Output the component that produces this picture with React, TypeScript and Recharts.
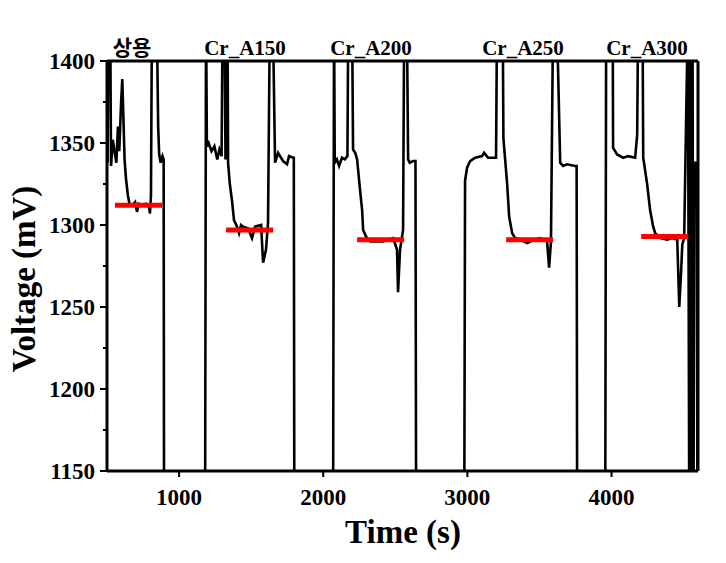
import React from 'react';
import { LineChart, Line, XAxis, YAxis, ReferenceLine, Customized } from 'recharts';

// ---- data (time in s, voltage in mV); values outside 1150..1400 run off the frame ----
const segCommercial: [number, number][] = [
  [500, 1430], [504, 1338], [510, 1430], [522, 1430], [528, 1336], [540, 1352], [552, 1345],
  [565, 1338], [576, 1360], [585, 1345], [598, 1375], [606, 1389], [614, 1365], [622, 1340],
  [632, 1328], [645, 1318], [658, 1312], [675, 1312], [695, 1314], [708, 1308], [720, 1313],
  [745, 1312], [770, 1313], [790, 1312], [798, 1307], [805, 1318], [812, 1430], [845, 1430],
  [855, 1360], [862, 1343], [872, 1338], [885, 1342], [893, 1340], [896, 1100],
];
const segA150: [number, number][] = [
  [1180, 1100], [1187, 1430], [1193, 1348], [1205, 1350], [1225, 1345], [1245, 1348], [1265, 1340],
  [1280, 1346], [1295, 1342], [1302, 1430], [1315, 1430], [1322, 1340], [1328, 1430], [1336, 1430],
  [1340, 1338], [1352, 1325], [1367, 1315], [1381, 1303], [1402, 1299], [1416, 1295], [1430, 1300],
  [1444, 1299], [1479, 1298], [1506, 1292], [1527, 1299], [1569, 1300], [1583, 1277], [1603, 1285],
  [1617, 1301], [1630, 1430], [1650, 1430], [1666, 1338], [1687, 1344], [1721, 1339], [1749, 1337],
  [1763, 1342], [1791, 1341], [1796, 1341], [1800, 1100],
];
const segA200: [number, number][] = [
  [2068, 1100], [2075, 1430], [2080, 1338], [2095, 1340], [2110, 1336], [2130, 1341], [2150, 1340],
  [2168, 1342], [2174, 1430], [2200, 1430], [2207, 1346], [2222, 1344], [2235, 1340], [2256, 1321],
  [2270, 1309], [2277, 1297], [2297, 1293], [2325, 1290], [2374, 1290], [2415, 1290], [2485, 1292],
  [2512, 1285], [2519, 1259], [2533, 1285], [2554, 1297], [2562, 1430], [2580, 1430], [2589, 1340],
  [2600, 1338], [2624, 1339], [2640, 1339], [2645, 1100],
];
const segA250: [number, number][] = [
  [2978, 1100], [2984, 1327], [2998, 1335], [3019, 1339], [3054, 1341], [3102, 1342], [3116, 1344],
  [3144, 1341], [3199, 1341], [3206, 1430], [3245, 1430], [3250, 1353], [3262, 1340], [3276, 1325],
  [3290, 1305], [3311, 1295], [3331, 1292], [3370, 1291], [3415, 1289], [3460, 1291], [3505, 1292],
  [3553, 1290], [3567, 1274], [3580, 1290], [3595, 1430], [3620, 1430], [3644, 1338], [3664, 1336],
  [3692, 1337], [3748, 1336], [3758, 1336], [3762, 1100],
];
const segA300: [number, number][] = [
  [3956, 1100], [3963, 1430], [3968, 1430], [4008, 1430], [4011, 1347], [4039, 1343], [4081, 1341],
  [4115, 1342], [4164, 1341], [4178, 1355], [4185, 1430], [4215, 1430], [4220, 1341], [4247, 1325],
  [4268, 1309], [4289, 1299], [4303, 1295], [4340, 1292], [4386, 1291], [4420, 1292], [4456, 1291],
  [4470, 1250], [4482, 1270], [4491, 1288], [4504, 1292], [4530, 1430], [4540, 1100], [4548, 1430],
  [4556, 1100], [4562, 1430], [4568, 1100], [4575, 1338], [4592, 1338], [4596, 1100],
];

// red plateau markers: [start time, end time, voltage]
const plateauMarks: [number, number, number][] = [
  [555, 882, 1312],
  [1326, 1652, 1297],
  [2235, 2561, 1291],
  [3269, 3595, 1291],
  [4206, 4532, 1293],
];

const sampleLabels = ['상용', 'Cr_A150', 'Cr_A200', 'Cr_A250', 'Cr_A300'];
const xTicks = [1000, 2000, 3000, 4000];
const yTicks = [1150, 1175, 1200, 1225, 1250, 1275, 1300, 1325, 1350, 1375, 1400];

const trace = [...segCommercial, ...segA150, ...segA200, ...segA250, ...segA300].map(([t, v]) => ({ t, v }));
const markSeries = plateauMarks.map(([a, b, v]) => [{ t: a, v }, { t: b, v }]);

const SERIF = "'Liberation Serif', 'Times New Roman', 'Noto Sans CJK KR', serif";

const YTick = (props: any) => {
  const { x, y, payload } = props;
  const v = payload.value;
  const major = v % 50 === 0;
  const axisX = x + 12;
  return (
    <g>
      <line x1={axisX - (major ? 7 : 4)} x2={axisX} y1={y} y2={y} stroke="#000" strokeWidth={2} />
      {major && (
        <text x={x} y={y} dy="0.36em" textAnchor="end" fontFamily={SERIF} fontWeight="bold" fontSize={23} fill="#000">
          {v}
        </text>
      )}
    </g>
  );
};

const labelCenters = [132, 245, 371, 523, 647];

const Overlay = () => (
  <g>
    {sampleLabels.map((s, i) => (
      <text key={s} x={labelCenters[i]} y={55} textAnchor="middle" fontFamily={SERIF} fontWeight="bold" fontSize={21} fill="#000">
        {s}
      </text>
    ))}
    <text x={403} y={543} textAnchor="middle" fontFamily={SERIF} fontWeight="bold" fontSize={33} fill="#000">
      Time (s)
    </text>
    <text x={35} y={279} transform="rotate(-90 35 279)" textAnchor="middle" fontFamily={SERIF} fontWeight="bold" fontSize={33} fill="#000">
      Voltage (mV)
    </text>
  </g>
);

export default function App() {
  return (
    <div style={{ position: 'absolute', left: 0, top: 0, background: '#fff' }}>
      <LineChart width={726} height={563} margin={{ top: 61, right: 28, bottom: 0, left: 0 }}>
        <XAxis
          dataKey="t"
          type="number"
          domain={[500, 4600]}
          allowDataOverflow
          ticks={xTicks}
          interval={0}
          height={92}
          tickSize={6}
          tickMargin={12}
          axisLine={{ stroke: '#000', strokeWidth: 3 }}
          tickLine={{ stroke: '#000', strokeWidth: 2 }}
          tick={{ fontFamily: SERIF, fontWeight: 'bold', fontSize: 23, fill: '#000' }}
        />
        <YAxis
          dataKey="v"
          type="number"
          domain={[1150, 1400]}
          allowDataOverflow
          ticks={yTicks}
          interval={0}
          width={107}
          tickSize={6}
          tickMargin={6}
          tickLine={false}
          axisLine={{ stroke: '#000', strokeWidth: 3 }}
          tick={<YTick />}
        />
        <Line data={trace} dataKey="v" type="linear" stroke="#000" strokeWidth={2.6} dot={false} isAnimationActive={false} />
        {markSeries.map((d, i) => (
          <Line key={i} data={d} dataKey="v" type="linear" stroke="#ff0000" strokeWidth={5} dot={false} isAnimationActive={false} />
        ))}
        <ReferenceLine y={1400} stroke="#000" strokeWidth={3} />
        <ReferenceLine x={4600} stroke="#000" strokeWidth={3} />
        <Customized component={Overlay} />
      </LineChart>
    </div>
  );
}
